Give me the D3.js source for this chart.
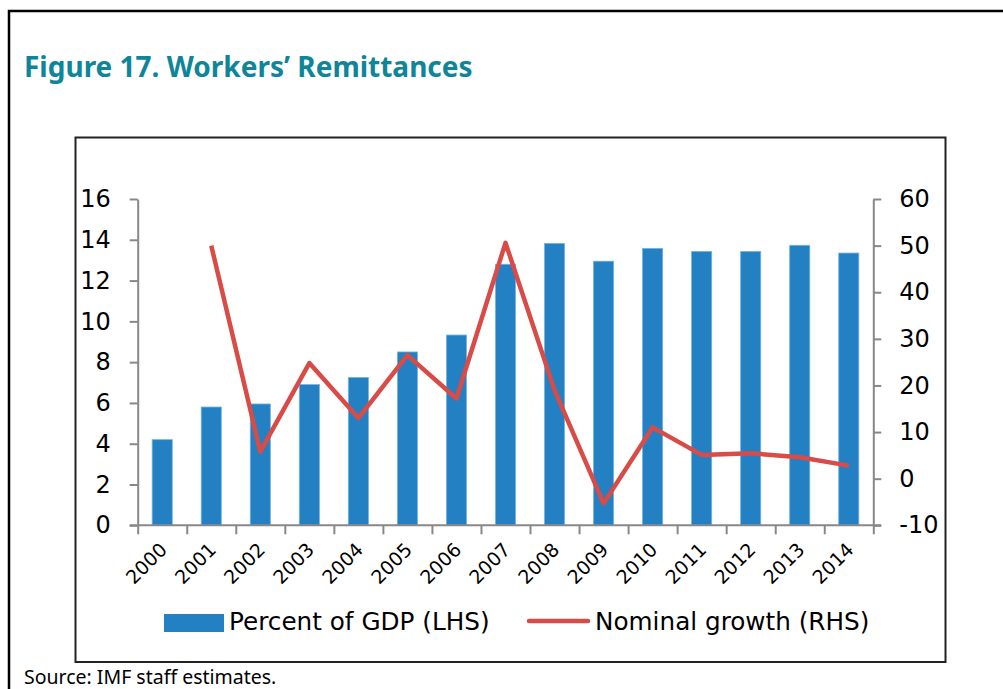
<!DOCTYPE html>
<html lang="en">
<head>
<meta charset="UTF-8">
<title>Workers' Remittances</title>
<script src="https://d3js.org/d3.v7.min.js"></script>
<style>
    body { margin: 0; background: #fff; }
    svg { display: block; }
</style>
</head>
<body>
<script>
    // Data
    const years = ["2000","2001","2002","2003","2004","2005","2006","2007",
                   "2008","2009","2010","2011","2012","2013","2014"];
    const pctGdp = [4.2, 5.8, 5.95, 6.9, 7.25, 8.5, 9.33, 12.8, 13.82, 12.95, 13.58, 13.43, 13.43, 13.73, 13.35];
    const growth = [null, 50.0, 5.8, 24.8, 13.0, 26.5, 17.2, 50.6, 19.0, -5.3, 11.0, 5.1, 5.45, 4.6, 2.8];
    const leftTicks = [0, 2, 4, 6, 8, 10, 12, 14, 16];
    const rightTicks = [-10, 0, 10, 20, 30, 40, 50, 60];
    const legendLabels = ["Percent of GDP (LHS)", "Nominal growth (RHS)"];

    const width = 1003, height = 689;
    const barColor = "#2381c3", lineColor = "#d94b47", axisColor = "#888";
    const font = "'DejaVu Sans', Verdana, sans-serif";

    const svg = d3.select("body").append("svg")
        .attr("width", width)
        .attr("height", height);

    // Outer frame (top + left only)
    svg.append("path")
        .attr("d", "M9,689 V11 H1003")
        .attr("fill", "none")
        .attr("stroke", "#000")
        .attr("stroke-width", 2.5);

    // Title
    svg.append("text")
        .attr("x", 24).attr("y", 77)
        .attr("fill", "#0e8598")
        .style("font-family", "'Noto Sans', 'Open Sans', sans-serif")
        .style("font-weight", "bold")
        .style("font-size", "28px")
        .text("Figure 17. Workers\u2019 Remittances");

    // Inner chart box
    svg.append("rect")
        .attr("x", 75.5).attr("y", 137.5)
        .attr("width", 870).attr("height", 524.5)
        .attr("fill", "none")
        .attr("stroke", "#222")
        .attr("stroke-width", 2);

    // Scales
    const x0 = 137.7, x1 = 873.3, yTop = 199, yBot = 525.3;
    const x = d3.scaleBand()
        .domain(years)
        .range([x0, x1])
        .paddingInner(0.59)
        .paddingOuter(0.295);
    const yL = d3.scaleLinear().domain([0, 16]).range([yBot, yTop]);
    const yR = d3.scaleLinear().domain([-10, 60]).range([yBot, yTop]);

    // Bars
    svg.append("g").selectAll("rect")
        .data(pctGdp)
        .enter()
        .append("rect")
        .attr("x", (d, i) => x(years[i]))
        .attr("y", d => yL(d))
        .attr("width", x.bandwidth())
        .attr("height", d => yL(0) - yL(d))
        .attr("fill", barColor)
        .attr("stroke", "#74b3e2")
        .attr("stroke-width", 0.8);

    // Axes
    const axisL = svg.append("g")
        .attr("transform", `translate(${x0},0)`)
        .call(d3.axisLeft(yL).tickValues(leftTicks).tickSize(8).tickPadding(19).tickSizeOuter(0));
    const axisR = svg.append("g")
        .attr("transform", `translate(${x1},0)`)
        .call(d3.axisRight(yR).tickValues(rightTicks).tickSize(8).tickPadding(18).tickSizeOuter(0)
            .tickFormat(d => String(d)));
    const xIdx = d3.scaleLinear().domain([0, years.length]).range([x0, x1]);
    const axisB = svg.append("g")
        .attr("transform", `translate(0,${yBot})`)
        .call(d3.axisBottom(xIdx).tickValues(d3.range(years.length + 1)).tickSize(9).tickFormat("").tickSizeOuter(0));

    [axisL, axisR, axisB].forEach(g => {
        g.select(".domain").attr("stroke", axisColor).attr("stroke-width", 2);
        g.selectAll(".tick line").attr("stroke", axisColor).attr("stroke-width", 2);
        g.selectAll(".tick text")
            .attr("fill", "#000")
            .style("font-family", font)
            .style("font-size", "24px");
    });
    // extend bottom axis line under the outer ticks
    axisB.select(".domain").attr("d", `M${x0 - 8},0H${x1 + 8}`);
    axisR.selectAll(".tick text").attr("text-anchor", "start");

    // Year labels
    svg.append("g").selectAll("text")
        .data(years)
        .enter()
        .append("text")
        .attr("transform", d => `translate(${x(d) + x.bandwidth() / 2 + 6},551) rotate(-45)`)
        .attr("text-anchor", "end")
        .style("font-family", font)
        .style("font-size", "19px")
        .text(d => d);

    // Growth line
    const line = d3.line()
        .defined(d => d != null)
        .x((d, i) => x(years[i]) + x.bandwidth() / 2)
        .y(d => yR(d));
    svg.append("path")
        .datum(growth)
        .attr("d", line)
        .attr("fill", "none")
        .attr("stroke", lineColor)
        .attr("stroke-width", 4.5)
        .attr("stroke-linejoin", "round");

    // Legend
    const legend = svg.append("g");
    legend.append("rect")
        .attr("x", 164).attr("y", 614)
        .attr("width", 60).attr("height", 18)
        .attr("fill", barColor);
    legend.append("text")
        .attr("x", 229).attr("y", 630)
        .style("font-family", font)
        .style("font-size", "24.7px")
        .text(legendLabels[0]);
    legend.append("line")
        .attr("x1", 529).attr("x2", 588)
        .attr("y1", 621).attr("y2", 621)
        .attr("stroke", lineColor)
        .attr("stroke-width", 4.5)
        .attr("stroke-linecap", "round");
    legend.append("text")
        .attr("x", 595).attr("y", 630)
        .style("font-family", font)
        .style("font-size", "24.7px")
        .text(legendLabels[1]);

    // Source note
    svg.append("text")
        .attr("x", 24).attr("y", 684)
        .style("font-family", "'Noto Sans', 'Open Sans', sans-serif")
        .style("font-size", "19.5px")
        .text("Source: IMF staff estimates.");
</script>
</body>
</html>
